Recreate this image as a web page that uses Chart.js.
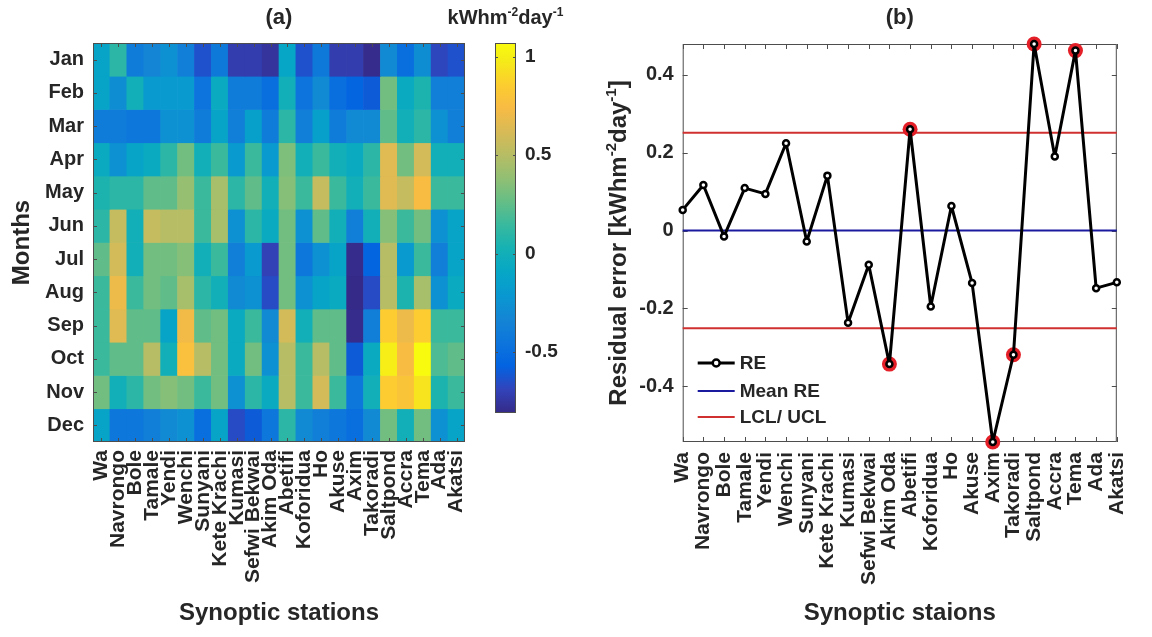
<!DOCTYPE html>
<html>
<head>
<meta charset="utf-8">
<script src="https://cdn.jsdelivr.net/npm/chart.js@4.4.1/dist/chart.umd.min.js"></script>
<style>
  html, body { margin: 0; padding: 0; background: #fff; }
  #wrap { position: relative; width: 1152px; height: 637px; overflow: hidden; }
  canvas { position: absolute; top: 0; }
  #heat { left: 0; }
  #cbar { left: 420px; }
  #resid { left: 580px; }
</style>
</head>
<body>
<div id="wrap">
  <canvas id="heat" width="490" height="637"></canvas>
  <canvas id="cbar" width="190" height="637"></canvas>
  <canvas id="resid" width="572" height="637"></canvas>
</div>
<script>
const stations = ['Wa', 'Navrongo', 'Bole', 'Tamale', 'Yendi', 'Wenchi', 'Sunyani', 'Kete Krachi',
  'Kumasi', 'Sefwi Bekwai', 'Akim Oda', 'Abetifi', 'Koforidua', 'Ho', 'Akuse', 'Axim',
  'Takoradi', 'Saltpond', 'Accra', 'Tema', 'Ada', 'Akatsi'];
const months = ['Jan', 'Feb', 'Mar', 'Apr', 'May', 'Jun', 'Jul', 'Aug', 'Sep', 'Oct', 'Nov', 'Dec'];

// monthly anomalies (kWh m-2 day-1), one value per station
const janVals = [-0.12, 0.1, -0.4, -0.34, -0.26, -0.38, -0.64, -0.42, -0.72, -0.72, -0.76, -0.1, -0.64, -0.42, -0.72, -0.72, -0.8, -0.3, -0.5, -0.28, -0.68, -0.64];
const febVals = [-0.12, -0.28, 0.0, -0.2, -0.2, -0.2, -0.46, -0.06, -0.4, -0.4, -0.5, 0.0, -0.46, -0.3, -0.5, -0.56, -0.6, 0.3, -0.06, 0.05, -0.38, -0.38];
const marVals = [-0.4, -0.4, -0.44, -0.44, -0.26, -0.26, -0.4, -0.12, -0.38, -0.15, -0.4, 0.1, -0.38, -0.15, -0.4, -0.3, -0.3, 0.25, 0.0, 0.1, -0.26, -0.38];
const aprVals = [-0.06, -0.26, -0.12, -0.06, 0.1, 0.3, 0.0, 0.15, -0.2, 0.15, -0.2, 0.33, 0.0, 0.15, 0.0, -0.06, 0.1, 0.65, 0.3, 0.6, 0.0, 0.0];
const mayVals = [0.05, 0.1, 0.1, 0.25, 0.25, 0.4, 0.15, 0.45, 0.1, 0.25, 0.0, 0.35, 0.15, 0.55, 0.15, 0.0, 0.15, 0.65, 0.55, 0.75, 0.15, 0.15];
const junVals = [0.1, 0.55, 0.0, 0.55, 0.5, 0.5, 0.15, 0.45, -0.26, 0.1, -0.06, 0.3, -0.26, 0.25, 0.0, -0.38, 0.0, 0.35, 0.15, 0.3, -0.26, -0.12];
const julVals = [0.25, 0.6, 0.0, 0.3, 0.3, 0.35, 0.0, 0.15, -0.38, -0.2, -0.7, 0.3, -0.44, -0.26, -0.12, -0.8, -0.56, 0.5, -0.2, 0.15, -0.38, -0.12];
const augVals = [0.15, 0.7, 0.15, 0.3, 0.25, 0.45, 0.1, 0.0, -0.3, -0.26, -0.66, 0.3, -0.26, -0.12, -0.06, -0.81, -0.66, 0.5, 0.05, 0.45, -0.26, -0.06];
const sepVals = [0.15, 0.65, 0.25, 0.25, -0.12, 0.72, 0.25, 0.3, -0.06, 0.15, -0.3, 0.6, 0.0, 0.25, 0.25, -0.8, -0.38, 0.85, 0.7, 0.85, 0.15, 0.15];
const octVals = [0.15, 0.25, 0.25, 0.5, 0.0, 0.78, 0.5, 0.3, -0.06, 0.3, -0.26, 0.5, 0.15, 0.5, 0.25, -0.6, -0.06, 1.0, 0.75, 1.07, 0.2, 0.25];
const novVals = [0.3, 0.0, 0.1, 0.3, 0.35, 0.3, 0.15, 0.3, -0.26, 0.1, -0.06, 0.5, 0.15, 0.6, 0.15, -0.44, 0.0, 0.85, 0.8, 0.95, 0.05, 0.15];
const decVals = [-0.12, -0.44, -0.44, -0.38, -0.3, -0.26, -0.5, -0.12, -0.66, -0.6, -0.44, 0.1, -0.3, -0.38, -0.44, -0.5, -0.3, 0.3, 0.0, 0.3, -0.26, -0.12];
const heatRows = [janVals, febVals, marVals, aprVals, mayVals, junVals, julVals, augVals, sepVals, octVals, novVals, decVals];
const cbarTicks = [-0.5, 0, 0.5, 1];

// residual error per station
const residuals = [0.053, 0.117, -0.015, 0.109, 0.094, 0.224, -0.028, 0.141, -0.237, -0.088, -0.343,
  0.26, -0.195, 0.063, -0.135, -0.543, -0.319, 0.479, 0.19, 0.462, -0.148, -0.133];
const meanRE = 0;
const ucl = 0.251;
const lcl = -0.251;
const yTicks = [-0.4, -0.2, 0, 0.2, 0.4];

const FONT = '"Liberation Sans", Arial, sans-serif';
const TXT = '#262626';
Chart.defaults.font.family = FONT;
Chart.defaults.color = TXT;

// MATLAB parula, sampled
const stopIdx = [0, 4, 8, 12, 16, 20, 24, 28, 32, 36, 40, 44, 48, 52, 56, 60, 63];
const parulaRGB = [[53,42,135],[50,67,186],[3,99,225],[13,117,220],[20,133,212],[9,152,209],[6,167,198],
  [21,177,180],[56,185,158],[101,190,134],[146,191,115],[183,189,100],[217,186,86],[248,187,68],
  [252,206,46],[245,235,24],[249,251,14]];
function parula(t) {
  t = Math.min(1, Math.max(0, t));
  const x = t * 63;
  let k = 0;
  while (k < stopIdx.length - 2 && stopIdx[k + 1] < x) k++;
  const f = (x - stopIdx[k]) / (stopIdx[k + 1] - stopIdx[k]);
  const c0 = parulaRGB[k], c1 = parulaRGB[k + 1];
  return 'rgb(' + c0.map((c, j) => Math.round(c + (c1[j] - c) * f)).join(',') + ')';
}

const allHeat = heatRows.flat();
const cMin = Math.min(...allHeat);
const cMax = Math.max(...allHeat);

function richText(ctx, parts, x, y, size) {
  const big = 'bold ' + size + 'px ' + FONT;
  const small = 'bold ' + Math.round(size * 0.62) + 'px ' + FONT;
  let w = 0;
  const widths = parts.map(p => {
    ctx.font = p.sup ? small : big;
    const pw = ctx.measureText(p.t).width;
    w += pw;
    return pw;
  });
  let cx = x - w / 2;
  ctx.textAlign = 'left';
  ctx.textBaseline = 'alphabetic';
  parts.forEach((p, i) => {
    ctx.font = p.sup ? small : big;
    ctx.fillText(p.t, cx, p.sup ? y - size * 0.42 : y);
    cx += widths[i];
  });
}
const unitParts = [{t: 'kWhm'}, {t: '-2', sup: true}, {t: 'day'}, {t: '-1', sup: true}];

// ---- (a) heat map ----
const heatFrame = {
  id: 'heatFrame',
  afterDraw(chart) {
    const {ctx, chartArea: a, scales: {x, y}} = chart;
    ctx.save();
    ctx.strokeStyle = '#4d4d4d';
    ctx.lineWidth = 1;
    ctx.strokeRect(a.left + 0.5, a.top + 0.5, a.width - 1, a.height - 1);
    ctx.beginPath();
    stations.forEach((s, i) => {
      const px = Math.round(x.getPixelForValue(i)) + 0.5;
      ctx.moveTo(px, a.top); ctx.lineTo(px, a.top + 4);
      ctx.moveTo(px, a.bottom); ctx.lineTo(px, a.bottom - 4);
    });
    months.forEach((m, i) => {
      const py = Math.round(y.getPixelForValue(i + 0.5)) + 0.5;
      ctx.moveTo(a.left, py); ctx.lineTo(a.left + 4, py);
      ctx.moveTo(a.right, py); ctx.lineTo(a.right - 4, py);
    });
    ctx.stroke();
    ctx.fillStyle = TXT;
    ctx.font = 'bold 22px ' + FONT;
    ctx.textAlign = 'center';
    ctx.textBaseline = 'middle';
    ctx.fillText('(a)', (a.left + a.right) / 2, 18);
    ctx.restore();
  }
};

new Chart(document.getElementById('heat'), {
  type: 'bar',
  data: {
    labels: stations,
    datasets: heatRows.map((row, m) => ({
      label: months[m],
      data: row.map(() => [m, m + 1]),
      backgroundColor: row.map(v => parula((v - cMin) / (cMax - cMin))),
      borderWidth: 0,
      barPercentage: 1,
      categoryPercentage: 1,
      grouped: false
    }))
  },
  options: {
    responsive: false,
    animation: false,
    layout: {padding: {top: 43, right: 12, left: 0, bottom: 0}},
    plugins: {legend: {display: false}, tooltip: {enabled: false}},
    scales: {
      x: {
        grid: {display: false, drawTicks: false},
        border: {display: false},
        ticks: {autoSkip: false, minRotation: 90, maxRotation: 90, padding: 8, font: {size: 21, weight: 'bold'}},
        title: {display: true, text: 'Synoptic stations', font: {size: 24, weight: 'bold'}, padding: 9},
        afterFit: s => { s.height = 195; }
      },
      y: {
        type: 'linear', min: 0, max: 12, reverse: true,
        grid: {display: false, drawTicks: false},
        border: {display: false},
        afterBuildTicks: s => { s.ticks = months.map((m, i) => ({value: i + 0.5})); },
        ticks: {callback: (v, i) => months[i], padding: 9, font: {size: 20, weight: 'bold'}},
        title: {display: true, text: 'Months', font: {size: 24, weight: 'bold'}, padding: 8},
        afterFit: s => { s.width = 93; }
      }
    }
  },
  plugins: [heatFrame]
});

// ---- colour bar ----
const cbarFrame = {
  id: 'cbarFrame',
  afterDraw(chart) {
    const {ctx, chartArea: a, scales: {y}} = chart;
    ctx.save();
    ctx.strokeStyle = '#4d4d4d';
    ctx.lineWidth = 1;
    ctx.strokeRect(a.left + 0.5, a.top + 0.5, a.width - 1, a.height - 1);
    ctx.beginPath();
    cbarTicks.forEach(v => {
      const py = Math.round(y.getPixelForValue(v)) + 0.5;
      ctx.moveTo(a.left, py); ctx.lineTo(a.left + 3, py);
      ctx.moveTo(a.right, py); ctx.lineTo(a.right - 3, py);
    });
    ctx.stroke();
    ctx.fillStyle = TXT;
    richText(ctx, unitParts, (a.left + a.right) / 2, 24, 20);
    ctx.restore();
  }
};

new Chart(document.getElementById('cbar'), {
  type: 'bar',
  data: {
    labels: [''],
    datasets: [{
      data: [[cMin, cMax]],
      backgroundColor: c => {
        const ca = c.chart.chartArea;
        if (!ca) return 'transparent';
        const g = c.chart.ctx.createLinearGradient(0, ca.bottom, 0, ca.top);
        stopIdx.forEach((s, k) => g.addColorStop(s / 63, 'rgb(' + parulaRGB[k].join(',') + ')'));
        return g;
      },
      borderWidth: 0,
      barPercentage: 1,
      categoryPercentage: 1
    }]
  },
  options: {
    responsive: false,
    animation: false,
    layout: {padding: {top: 43, right: 0, left: 75, bottom: 224}},
    plugins: {legend: {display: false}, tooltip: {enabled: false}},
    scales: {
      x: {display: false},
      y: {
        position: 'right', min: cMin, max: cMax,
        grid: {display: false, drawTicks: false},
        border: {display: false},
        afterBuildTicks: s => { s.ticks = cbarTicks.map(v => ({value: v})); },
        ticks: {padding: 9, font: {size: 19, weight: 'bold'}, callback: v => String(v)},
        afterFit: s => { s.width = 94; }
      }
    }
  },
  plugins: [cbarFrame]
});

// ---- (b) residual error ----
const meanColor = '#1a1a9e';
const limitColor = '#d0302f';

const residDecor = {
  id: 'residDecor',
  beforeDatasetsDraw(chart) {
    const {ctx, chartArea: a, scales: {x, y}} = chart;
    ctx.save();
    ctx.strokeStyle = '#4d4d4d';
    ctx.lineWidth = 1;
    ctx.strokeRect(a.left + 0.5, a.top + 0.5, a.width - 1, a.height - 1);
    ctx.beginPath();
    stations.forEach((s, i) => {
      const px = Math.round(x.getPixelForValue(i)) + 0.5;
      ctx.moveTo(px, a.top); ctx.lineTo(px, a.top + 5);
      ctx.moveTo(px, a.bottom); ctx.lineTo(px, a.bottom - 5);
    });
    yTicks.forEach(v => {
      const py = Math.round(y.getPixelForValue(v)) + 0.5;
      ctx.moveTo(a.left, py); ctx.lineTo(a.left + 5, py);
      ctx.moveTo(a.right, py); ctx.lineTo(a.right - 5, py);
    });
    ctx.stroke();
    ctx.restore();
  },
  afterDraw(chart) {
    const {ctx, chartArea: a} = chart;
    ctx.save();
    ctx.fillStyle = TXT;
    ctx.font = 'bold 22px ' + FONT;
    ctx.textAlign = 'center';
    ctx.textBaseline = 'middle';
    ctx.fillText('(b)', (a.left + a.right) / 2, 18);

    // y axis title with superscripts
    ctx.save();
    ctx.translate(37, (a.top + a.bottom) / 2);
    ctx.rotate(-Math.PI / 2);
    richText(ctx, [{t: 'Residual error [kWhm'}, {t: '-2', sup: true}, {t: 'day'}, {t: '-1', sup: true}, {t: ']'}], 0, 9, 24);
    ctx.restore();

    // legend
    const items = [
      {t: 'RE', color: '#000', w: 3, marker: true, y: a.bottom - 79},
      {t: 'Mean RE', color: meanColor, w: 2, y: a.bottom - 51},
      {t: 'LCL/ UCL', color: limitColor, w: 2, y: a.bottom - 25}
    ];
    items.forEach(it => {
      ctx.strokeStyle = it.color;
      ctx.lineWidth = it.w;
      ctx.beginPath();
      ctx.moveTo(a.left + 15, it.y);
      ctx.lineTo(a.left + 52, it.y);
      ctx.stroke();
      if (it.marker) {
        ctx.beginPath();
        ctx.arc(a.left + 33.5, it.y, 3.5, 0, Math.PI * 2);
        ctx.fillStyle = '#fff';
        ctx.fill();
        ctx.lineWidth = 2.5;
        ctx.stroke();
      }
      ctx.fillStyle = TXT;
      ctx.font = 'bold 19px ' + FONT;
      ctx.textAlign = 'left';
      ctx.textBaseline = 'middle';
      ctx.fillText(it.t, a.left + 57, it.y + 1);
    });
    ctx.restore();
  }
};

new Chart(document.getElementById('resid'), {
  type: 'line',
  data: {
    labels: stations,
    datasets: [
      {label: 'RE', data: residuals, borderColor: '#000', borderWidth: 3, tension: 0,
        borderJoinStyle: 'round',
        pointRadius: 3, pointBorderWidth: 2.5, pointBackgroundColor: '#fff', pointBorderColor: '#000',
        order: 1, clip: false},
      {label: 'Out of control', data: residuals.map(v => (v > ucl || v < lcl) ? v : null), showLine: false,
        pointRadius: 7.5, pointBorderWidth: 0, pointBackgroundColor: '#e51f27', order: 2, clip: false},
      {label: 'Mean RE', data: stations.map(() => meanRE), borderColor: meanColor, borderWidth: 2, pointRadius: 0, order: 3},
      {label: 'UCL', data: stations.map(() => ucl), borderColor: limitColor, borderWidth: 2, pointRadius: 0, order: 3},
      {label: 'LCL', data: stations.map(() => lcl), borderColor: limitColor, borderWidth: 2, pointRadius: 0, order: 3}
    ]
  },
  options: {
    responsive: false,
    animation: false,
    layout: {padding: {top: 44, right: 22, left: 0, bottom: 0}},
    plugins: {legend: {display: false}, tooltip: {enabled: false}},
    scales: {
      x: {
        grid: {display: false, drawTicks: false},
        border: {display: false},
        ticks: {autoSkip: false, minRotation: 90, maxRotation: 90, padding: 10, font: {size: 21, weight: 'bold'}},
        title: {display: true, text: 'Synoptic staions', font: {size: 24, weight: 'bold'}, padding: 9},
        afterFit: s => { s.height = 195; }
      },
      y: {
        min: Math.min(...residuals), max: Math.max(...residuals),
        grid: {display: false, drawTicks: false},
        border: {display: false},
        afterBuildTicks: s => { s.ticks = yTicks.map(v => ({value: v})); },
        ticks: {padding: 9, font: {size: 20, weight: 'bold'}, callback: v => v === 0 ? '0' : v.toFixed(1)},
        afterFit: s => { s.width = 102.7; }
      }
    }
  },
  plugins: [residDecor]
});
</script>
</body>
</html>
